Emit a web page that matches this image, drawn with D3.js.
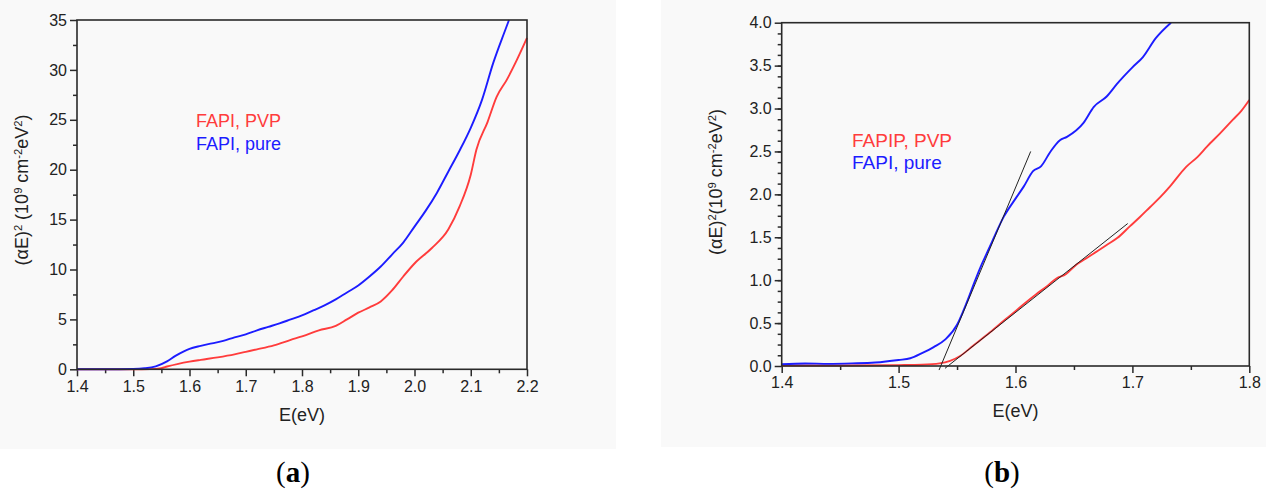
<!DOCTYPE html>
<html>
<head>
<meta charset="utf-8">
<script src="https://cdn.jsdelivr.net/npm/d3@7"></script>
<style>
    body { margin: 0; background: #fff; }
</style>
</head>
<body>
<svg id="chart" width="1266" height="495" font-family="'Liberation Sans', Arial, sans-serif"></svg>
<script>
// (a) full absorption edge, 1.4 - 2.2 eV
const energyPureA = [1.40, 1.45, 1.50, 1.52, 1.54, 1.56, 1.575, 1.59, 1.60, 1.62, 1.64, 1.66, 1.68, 1.70, 1.72, 1.74, 1.76, 1.78, 1.80, 1.82, 1.84, 1.86, 1.88, 1.90, 1.92, 1.94, 1.96, 1.98, 2.00, 2.02, 2.04, 2.06, 2.08, 2.10, 2.12, 2.14, 2.16, 2.168];
const alphaPureA = [0, 0, 0.03, 0.1, 0.3, 0.8, 1.35, 1.8, 2.05, 2.35, 2.6, 2.85, 3.2, 3.5, 3.9, 4.25, 4.6, 5.0, 5.4, 5.9, 6.4, 7.0, 7.7, 8.4, 9.3, 10.3, 11.5, 12.7, 14.3, 15.9, 17.7, 19.8, 21.9, 24.2, 27.0, 30.7, 33.8, 35.0];
const energyPvpA = [1.40, 1.50, 1.53, 1.55, 1.56, 1.58, 1.60, 1.62, 1.65, 1.68, 1.70, 1.72, 1.75, 1.78, 1.80, 1.83, 1.86, 1.88, 1.90, 1.92, 1.94, 1.96, 1.98, 2.00, 2.03, 2.06, 2.08, 2.10, 2.11, 2.13, 2.146, 2.164, 2.182, 2.20];
const alphaPvpA = [0, 0, 0.02, 0.12, 0.28, 0.55, 0.77, 0.95, 1.2, 1.5, 1.75, 2.0, 2.4, 2.95, 3.3, 3.9, 4.35, 5.0, 5.67, 6.2, 6.8, 7.9, 9.3, 10.6, 12.1, 14.0, 16.3, 19.5, 22.0, 24.8, 27.3, 29.0, 31.0, 33.2];

// (b) close-up of the onset, 1.4 - 1.8 eV
const energyPureB = [1.40, 1.42, 1.44, 1.46, 1.48, 1.50, 1.51, 1.52, 1.53, 1.54, 1.55, 1.555, 1.56, 1.565, 1.57, 1.575, 1.58, 1.59, 1.60, 1.607, 1.615, 1.622, 1.63, 1.638, 1.644, 1.658, 1.667, 1.678, 1.687, 1.70, 1.709, 1.72, 1.733];
const alphaPureB = [0.02, 0.03, 0.025, 0.03, 0.04, 0.07, 0.09, 0.15, 0.22, 0.31, 0.48, 0.63, 0.8, 0.98, 1.15, 1.3, 1.45, 1.74, 1.95, 2.09, 2.27, 2.33, 2.5, 2.63, 2.67, 2.83, 3.02, 3.14, 3.29, 3.48, 3.6, 3.82, 4.0];
const energyPvpB = [1.40, 1.45, 1.50, 1.52, 1.535, 1.544, 1.553, 1.564, 1.578, 1.592, 1.601, 1.607, 1.618, 1.627, 1.635, 1.643, 1.652, 1.66, 1.669, 1.678, 1.687, 1.698, 1.706, 1.715, 1.724, 1.732, 1.746, 1.756, 1.764, 1.775, 1.786, 1.793, 1.80];
const alphaPvpB = [0.005, 0.005, 0.01, 0.015, 0.03, 0.06, 0.12, 0.24, 0.39, 0.55, 0.65, 0.72, 0.84, 0.93, 1.02, 1.07, 1.18, 1.25, 1.33, 1.41, 1.49, 1.63, 1.73, 1.85, 1.97, 2.09, 2.32, 2.44, 2.56, 2.71, 2.87, 2.97, 3.1];

// linear fits used for the band-gap extrapolation
const fitPureE = [1.5346, 1.613];
const fitPureY = [-0.047, 2.5];
const fitPvpE = [1.5397, 1.696];
const fitPvpY = [-0.027, 1.66];

const ticksXA = [1.4, 1.5, 1.6, 1.7, 1.8, 1.9, 2.0, 2.1, 2.2];
const ticksYA = [0, 5, 10, 15, 20, 25, 30, 35];
const ticksXB = [1.4, 1.5, 1.6, 1.7, 1.8];
const ticksYB = [0, 0.5, 1.0, 1.5, 2.0, 2.5, 3.0, 3.5, 4.0];

const RED = '#ff3c3c';
const BLUE = '#1c1cff';
const AXIS = '#2a2a2a';

const svg = d3.select('#chart');

// light panel backgrounds
svg.append('rect').attr('x', 0).attr('y', 0).attr('width', 616).attr('height', 449).attr('fill', '#f9f9f9');
svg.append('rect').attr('x', 661).attr('y', 0).attr('width', 605).attr('height', 447).attr('fill', '#f9f9f9');

function zip(xs, ys) {
    return xs.map((x, i) => [x, ys[i]]);
}

function axisTitle(g, parts, attrs) {
    const t = g.append('text')
        .attr('fill', '#222')
        .attr('font-size', attrs.size)
        .attr('text-anchor', 'middle')
        .attr('transform', attrs.transform);
    parts.forEach(([s, sup]) => {
        t.append('tspan')
            .attr('font-size', sup ? attrs.size * 0.62 : attrs.size)
            .attr('baseline-shift', sup ? '55%' : null)
            .text(s);
    });
}

function drawPanel(p) {
    const x = d3.scaleLinear().domain(p.xDomain).range([p.left, p.right]);
    const y = d3.scaleLinear().domain(p.yDomain).range([p.bottom, p.top]);
    const g = svg.append('g');

    // minor ticks
    g.append('g')
        .attr('transform', `translate(0,${p.bottom})`)
        .call(d3.axisBottom(x).tickValues(p.xMinor).tickSize(4).tickFormat(''))
        .call(a => a.select('.domain').remove());
    g.append('g')
        .attr('transform', `translate(${p.left},0)`)
        .call(d3.axisLeft(y).tickValues(p.yMinor).tickSize(4).tickFormat(''))
        .call(a => a.select('.domain').remove());

    // major ticks + labels
    g.append('g')
        .attr('transform', `translate(0,${p.bottom})`)
        .call(d3.axisBottom(x).tickValues(p.xTicks).tickSize(7).tickPadding(4).tickFormat(d3.format('.1f')))
        .call(a => a.select('.domain').remove());
    g.append('g')
        .attr('transform', `translate(${p.left},0)`)
        .call(d3.axisLeft(y).tickValues(p.yTicks).tickSize(7).tickPadding(3).tickFormat(d3.format(p.yFormat)))
        .call(a => a.select('.domain').remove());

    g.selectAll('.tick line').attr('stroke', AXIS).attr('stroke-width', 1.5);
    g.selectAll('.tick text').attr('fill', '#222').attr('font-size', 16)
        .attr('font-family', "'Liberation Sans', Arial, sans-serif");

    // curves
    const line = d3.line().x(d => x(d[0])).y(d => y(d[1])).curve(d3.curveMonotoneX);
    g.append('path').datum(zip(p.pvpE, p.pvpY))
        .attr('fill', 'none').attr('stroke', RED).attr('stroke-width', 1.9).attr('d', line);
    g.append('path').datum(zip(p.pureE, p.pureY))
        .attr('fill', 'none').attr('stroke', BLUE).attr('stroke-width', 1.9).attr('d', line);

    const straight = d3.line().x(d => x(d[0])).y(d => y(d[1]));
    (p.fits || []).forEach(f => {
        g.append('path').datum(zip(f[0], f[1]))
            .attr('fill', 'none').attr('stroke', '#222').attr('stroke-width', 1).attr('d', straight);
    });

    // frame
    g.append('rect')
        .attr('x', p.left).attr('y', p.top)
        .attr('width', p.right - p.left).attr('height', p.bottom - p.top)
        .attr('fill', 'none').attr('stroke', AXIS).attr('stroke-width', 1.6);

    // legend text
    p.legend.forEach((l, i) => {
        g.append('text')
            .attr('x', p.legendX).attr('y', p.legendY + i * p.legendGap)
            .attr('font-size', p.legendSize)
            .attr('fill', l[1])
            .text(l[0]);
    });

    g.append('text')
        .attr('x', (p.left + p.right) / 2).attr('y', p.xLabelY)
        .attr('text-anchor', 'middle').attr('font-size', 18).attr('fill', '#222')
        .text('E(eV)');

    axisTitle(g, p.yLabel, { size: p.yLabelSize, transform: `translate(${p.yLabelX},${p.yLabelCy}) rotate(-90)` });

    // panel tag (a) / (b)
    const tag = g.append('text')
        .attr('x', p.tagX).attr('y', 482)
        .attr('text-anchor', 'middle')
        .attr('font-family', "'Liberation Serif', 'DejaVu Serif', serif")
        .attr('font-size', 29).attr('fill', '#000');
    tag.append('tspan').text('(');
    tag.append('tspan').attr('font-weight', 'bold').text(p.tag);
    tag.append('tspan').text(')');
}

drawPanel({
    left: 77, right: 527, top: 20, bottom: 369.3,
    xDomain: [1.4, 2.2], yDomain: [0, 35],
    xTicks: ticksXA, yTicks: ticksYA, yFormat: 'd',
    xMinor: d3.range(1.45, 2.2, 0.1), yMinor: d3.range(2.5, 35, 5),
    pureE: energyPureA, pureY: alphaPureA, pvpE: energyPvpA, pvpY: alphaPvpA,
    legend: [['FAPI, PVP', RED], ['FAPI, pure', BLUE]],
    legendX: 196, legendY: 127, legendGap: 23, legendSize: 18,
    xLabelY: 421,
    yLabel: [['(\u03b1E)', false], ['2', true], [' (10', false], ['9', true], [' cm', false], ['-2', true], ['eV', false], ['2', true], [')', false]],
    yLabelSize: 18, yLabelX: 28, yLabelCy: 190,
    tag: 'a', tagX: 293
});

drawPanel({
    left: 781.7, right: 1249.3, top: 22.7, bottom: 366,
    xDomain: [1.4, 1.8], yDomain: [0, 4],
    xTicks: ticksXB, yTicks: ticksYB, yFormat: '.1f',
    xMinor: d3.range(1.45, 1.8, 0.1), yMinor: d3.range(0.125, 4, 0.125),
    pureE: energyPureB, pureY: alphaPureB, pvpE: energyPvpB, pvpY: alphaPvpB,
    fits: [[fitPureE, fitPureY], [fitPvpE, fitPvpY]],
    legend: [['FAPIP, PVP', RED], ['FAPI, pure', BLUE]],
    legendX: 852, legendY: 147, legendGap: 22, legendSize: 19,
    xLabelY: 417,
    yLabel: [['(\u03b1E)', false], ['2', true], ['(10', false], ['9', true], [' cm', false], ['-2', true], ['eV', false], ['2', true], [')', false]],
    yLabelSize: 18, yLabelX: 722, yLabelCy: 182,
    tag: 'b', tagX: 1002
});
</script>
</body>
</html>
